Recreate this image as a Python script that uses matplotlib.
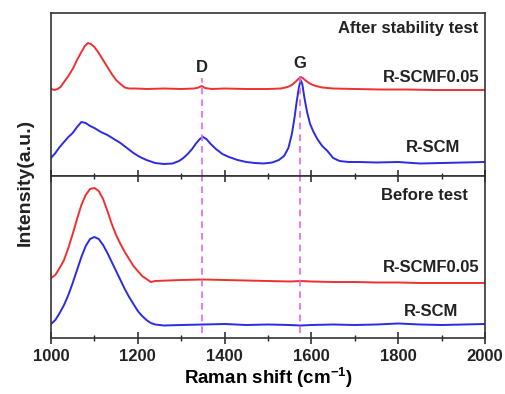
import matplotlib
matplotlib.use("Agg")
import matplotlib.pyplot as plt
from matplotlib.ticker import MultipleLocator

plt.rcParams['font.family'] = ['Liberation Sans', 'DejaVu Sans']
plt.rcParams['font.weight'] = 'bold'
plt.rcParams['mathtext.fontset'] = 'custom'
plt.rcParams['mathtext.bf'] = 'Liberation Sans:bold'
plt.rcParams['mathtext.rm'] = 'Liberation Sans:bold'

# After stability test (top panel)
top_red_x = [1000, 1008, 1015, 1022, 1030, 1040, 1050, 1060, 1070, 1078, 1085, 1092, 1100, 1110, 1120,
             1130, 1140, 1150, 1160, 1170, 1180, 1195, 1220, 1260, 1300, 1330, 1340, 1347, 1355, 1370,
             1400, 1450, 1500, 1530, 1545, 1555, 1563, 1570, 1575, 1580, 1588, 1598, 1610, 1625, 1650,
             1700, 1760, 1820, 1880, 1940, 2000]
top_red_y = [87, 86, 87, 89, 94, 100, 107, 116, 124, 130, 133, 132, 129, 123, 116,
             109, 102, 96, 92, 88.5, 87.5, 87.5, 87, 87.5, 87, 87.5, 88.5, 90, 88, 87,
             87.5, 87, 87, 87.5, 89, 91, 94, 97, 99, 98, 95, 92, 90, 88.5, 87.5,
             87, 86.5, 86.5, 86, 86, 86]

top_blue_x = [1000, 1010, 1020, 1030, 1040, 1050, 1060, 1070, 1080, 1090, 1100, 1115, 1130, 1145, 1160,
              1175, 1190, 1205, 1220, 1240, 1260, 1280, 1295, 1305, 1315, 1325, 1335, 1343, 1350, 1358,
              1368, 1380, 1395, 1410, 1430, 1450, 1470, 1490, 1510, 1525, 1537, 1547, 1555, 1561, 1566,
              1571, 1575, 1579, 1584, 1590, 1597, 1605, 1615, 1625, 1637, 1650, 1665, 1685, 1710, 1750,
              1800, 1850, 1900, 1950, 2000]
top_blue_y = [18, 23, 29, 34, 39, 43, 49, 54, 53, 50, 48, 44, 41, 37, 33,
              28, 23, 19, 16, 13, 12, 12.5, 15, 18, 22, 27, 33, 37, 39, 37,
              32, 27, 22, 19, 16, 14, 13, 12.5, 13.5, 16, 20, 28, 42, 58, 74,
              88, 96, 92, 78, 64, 52, 44, 36, 30, 25, 18, 15, 14, 14, 13.5,
              14, 12.5, 13, 13.5, 14]

# Before test (bottom panel)
bot_red_x = [1000, 1010, 1020, 1030, 1040, 1050, 1060, 1070, 1080, 1090, 1100, 1110, 1120, 1130, 1140,
             1150, 1160, 1170, 1180, 1190, 1200, 1210, 1220, 1230, 1240, 1270, 1300, 1350, 1400, 1450,
             1500, 1550, 1575, 1600, 1650, 1700, 1750, 1800, 1850, 1900, 1950, 2000]
bot_red_y = [60, 63, 70, 78, 90, 104, 119, 133, 143, 149, 150, 147, 139, 127, 114,
             103, 94, 86, 79, 72, 67, 62, 59, 56, 57, 57.5, 58, 58.5, 58, 57.5,
             57, 56.5, 57, 56.5, 56, 56, 55.5, 55.5, 55, 55, 55, 55]

bot_blue_x = [1000, 1010, 1020, 1030, 1040, 1050, 1060, 1070, 1080, 1090, 1100, 1110, 1120, 1130, 1140,
              1150, 1160, 1170, 1180, 1190, 1200, 1210, 1220, 1230, 1240, 1260, 1300, 1350, 1400, 1450,
              1500, 1550, 1575, 1600, 1650, 1700, 1750, 1800, 1850, 1900, 1950, 2000]
bot_blue_y = [14, 18, 25, 33, 43, 55, 68, 81, 92, 99, 101, 99, 93, 85, 76,
              67, 58, 49, 41, 34, 27, 22, 18, 15, 13.5, 12.5, 13, 13.5, 14, 13,
              13.5, 13, 12.5, 13, 13.5, 13, 13.5, 14.5, 13.5, 13, 13.5, 14]

peak_d = 1347
peak_g = 1574

red = '#f03030'
blue = '#2b2be6'
dash_col = '#e066e6'

fig = plt.figure(figsize=(5.06, 3.94), dpi=100)
ax1 = fig.add_axes([51/506, 1 - 176/394, 434/506, 163/394])
ax2 = fig.add_axes([51/506, 1 - 338/394, 434/506, 162/394])

ax1.plot(top_red_x, top_red_y, color=red, lw=1.4)
ax1.plot(top_blue_x, top_blue_y, color=blue, lw=1.4)
ax2.plot(bot_red_x, bot_red_y, color=red, lw=1.4)
ax2.plot(bot_blue_x, bot_blue_y, color=blue, lw=1.4)

ax1.set_ylim(0, 163)
ax2.set_ylim(0, 162)
for ax in (ax1, ax2):
    ax.set_xlim(1000, 2000)
    ax.set_yticks([])
    for s in ax.spines.values():
        s.set_linewidth(1.2)
        s.set_color('#333333')

# dashed guide lines for D and G bands
ax1.axvline(peak_d, ymin=0, ymax=98/163, color=dash_col, ls=(0, (4, 3)), lw=1.2)
ax1.axvline(peak_g, ymin=0, ymax=104/163, color=dash_col, ls=(0, (4, 3)), lw=1.2)
ax2.axvline(peak_d, ymin=0.03, ymax=1, color=dash_col, ls=(0, (4, 3)), lw=1.2)
ax2.axvline(peak_g, ymin=0.03, ymax=1, color=dash_col, ls=(0, (4, 3)), lw=1.2)

ax1.tick_params(axis='x', which='both', bottom=False, labelbottom=False)
ax2.xaxis.set_major_locator(MultipleLocator(200))
ax2.xaxis.set_minor_locator(MultipleLocator(100))
ax2.tick_params(axis='x', which='major', direction='inout', length=8, width=1.1,
                top=True, labelsize=12, pad=4, colors='#222222')
ax2.tick_params(axis='x', which='minor', direction='inout', length=5, width=1.0,
                top=True, colors='#222222')
for lab in ax2.get_xticklabels():
    lab.set_fontweight('bold')

ax2.set_xlabel('Raman shift (cm$^{\\mathbf{-1}}$)', fontsize=13.5, fontweight='bold', labelpad=1)
fig.text(25/506, 1 - 182/394, 'Intensity(a.u.)', rotation=90, ha='center', va='center',
         fontsize=14, fontweight='bold', color='#222222')

txt = dict(fontsize=12, fontweight='bold', color='#222222')
ax1.text(1984, 148, 'After stability test', ha='right', va='center', **txt)
ax1.text(1988, 99, 'R-SCMF0.05', ha='right', va='center', **txt)
ax1.text(1942, 28, 'R-SCM', ha='right', va='center', **txt)
ax1.text(peak_d, 109, 'D', ha='center', va='center', **txt)
ax1.text(peak_g, 113, 'G', ha='center', va='center', **txt)
ax2.text(1961, 143, 'Before test', ha='right', va='center', **txt)
ax2.text(1988, 70, 'R-SCMF0.05', ha='right', va='center', **txt)
ax2.text(1938, 26, 'R-SCM', ha='right', va='center', **txt)

fig.savefig('out.png', dpi=100)
